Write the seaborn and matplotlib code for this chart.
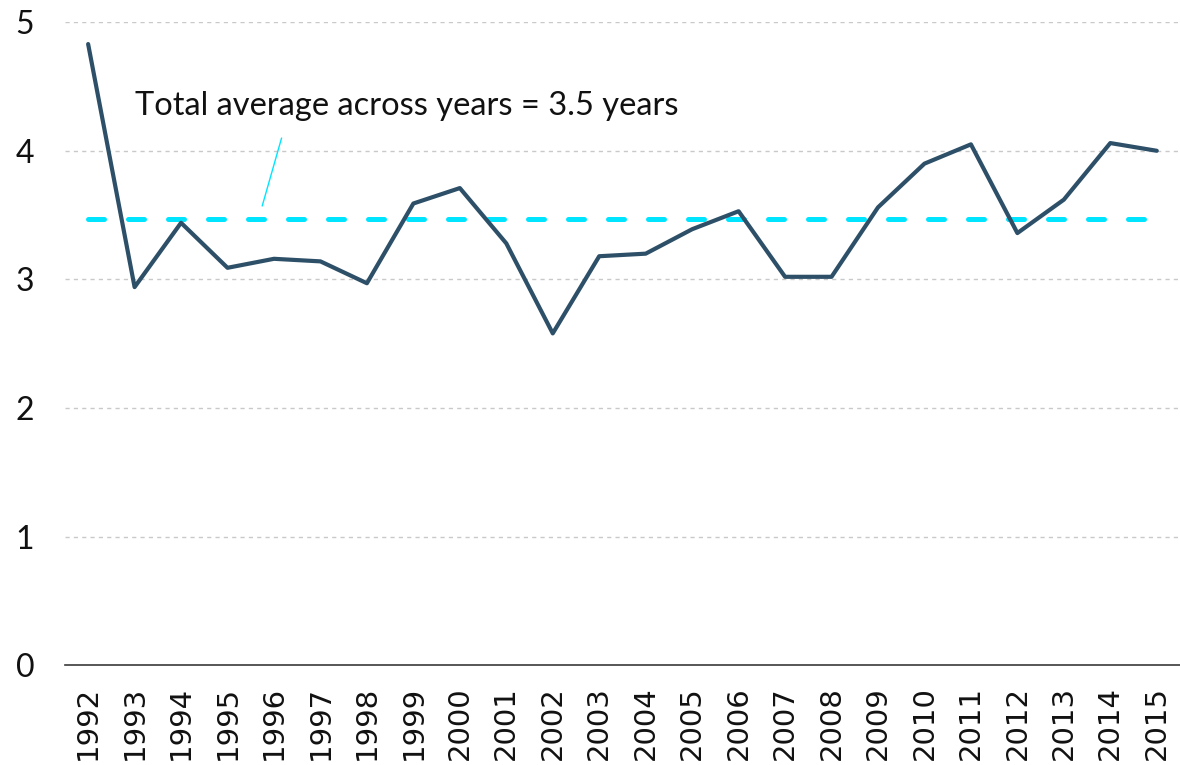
import matplotlib
matplotlib.use("Agg")
import matplotlib.pyplot as plt
import seaborn as sns
import pandas as pd

# Average time per year (years), 1992-2015
years = [str(y) for y in range(1992, 2016)]
values = [4.83, 2.94, 3.44, 3.09, 3.16, 3.14, 2.97, 3.59, 3.71, 3.28, 2.58, 3.18,
          3.20, 3.39, 3.53, 3.02, 3.02, 3.56, 3.90, 4.05, 3.36, 3.62, 4.06, 4.00]
average = 3.47
average_label = "Total average across years = 3.5 years"
y_ticks = [0, 1, 2, 3, 4, 5]

sns.set_theme(style="white")
plt.rcParams["font.family"] = ["DejaVu Sans"]

df = pd.DataFrame({"year": years, "value": values})

fig = plt.figure(figsize=(11.8, 7.65), dpi=100)
ax = fig.add_axes([0.055, 0.1305, 0.945, 0.8405])

line_color = "#2D5068"
avg_color = "#00E5FF"

# horizontal dashed reference grid
for t in y_ticks[1:]:
    ax.axhline(t, color="#C9C9C9", lw=1.0, ls=(0, (3, 3)), zorder=0)

sns.lineplot(data=df, x="year", y="value", ax=ax, color=line_color,
             lw=3.0, sort=False, zorder=3)

ax.hlines(average, 0, len(years) - 1, colors=avg_color, lw=3.6,
          linestyles=(0, (3.2, 4.8)), capstyle="round", zorder=2)
for coll in ax.collections:
    coll.set_capstyle("round")

ax.text(1.0, 4.35, average_label, ha="left", va="center",
        fontsize=23.5, family=["Lato", "DejaVu Sans"], color="#111111")
ax.annotate("", xy=(3.73, 3.55), xytext=(4.18, 4.12),
            arrowprops=dict(arrowstyle="-", color=avg_color, lw=1.0))

ax.set_xlim(-0.5, len(years) - 0.5)
ax.set_ylim(0, 5)
ax.set_yticks(y_ticks)
ax.set_yticklabels([str(t) for t in y_ticks], family=["Lato", "DejaVu Sans"],
                   fontsize=23, color="#111111")
ax.tick_params(axis="y", length=0, pad=22)
ax.tick_params(axis="x", length=0, pad=15, labelsize=21, labelrotation=90,
               labelcolor="#111111")
ax.set_xlabel("")
ax.set_ylabel("")

for side in ["top", "right", "left"]:
    ax.spines[side].set_visible(False)
ax.spines["bottom"].set_color("#3A3A3A")
ax.spines["bottom"].set_linewidth(1.2)

fig.savefig("out.png", dpi=100)
